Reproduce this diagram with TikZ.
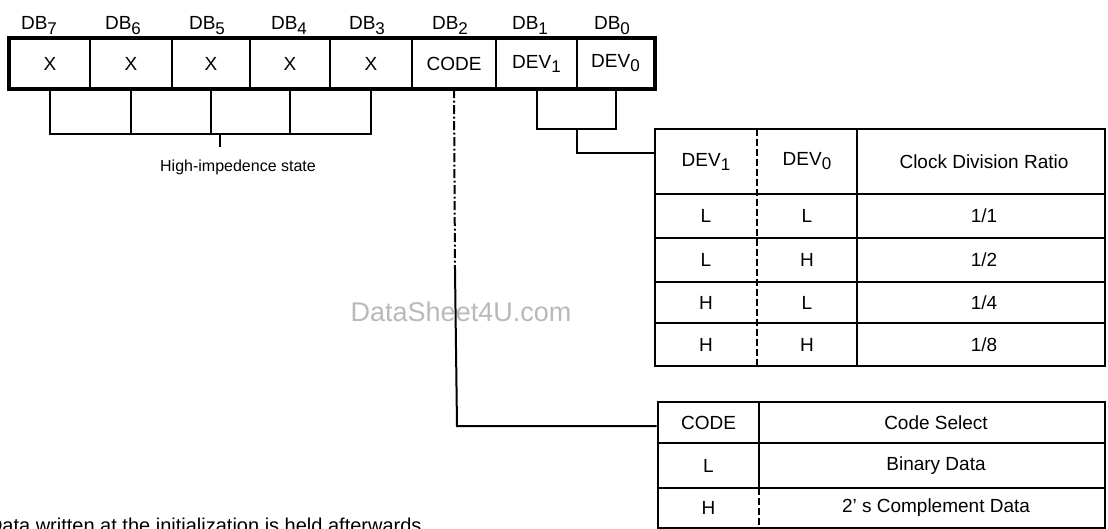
\documentclass[tikz,border=0pt]{standalone}
\usepackage{fontspec}
\setmainfont{Liberation Sans}
\usetikzlibrary{positioning}
\newcommand{\lowidx}[1]{\raisebox{-0.4ex}{\fontsize{17}{17}\selectfont #1}}

\begin{document}
\begin{tikzpicture}[x=1pt, y=-1pt, line width=2pt,
    regcell/.style={draw, line width=2.4pt, minimum height=49pt, inner sep=0pt},
    tabframe/.style={draw, line width=2.8pt, inner sep=0pt},
    txt/.style={inner sep=0pt, font=\fontsize{19}{19}\selectfont},
    thinrule/.style={line width=1.8pt},
    dashsep/.style={line width=1.8pt, dash pattern=on 7pt off 3pt},
    codeline/.style={line width=2pt, dash pattern=on 9pt off 2.5pt on 2pt off 2.5pt}]
    \useasboundingbox (0,0) rectangle (1108,529);
    \clip (0,0) rectangle (1108,529);

    % register DB7 .. DB0
    \foreach \xa/\xb/\lx/\k/\txt in {10/90/39/7/X, 90/172/123/6/X, 172/250/207/5/X, 250/330/289/4/X,
        330/412/367/3/X, 412/496/450/2/CODE, 496/577/530/1/{DEV\lowidx{1}}, 577/654/612/0/{DEV\lowidx{0}}} {
        \node[regcell, txt, minimum width={(\xb-\xa)*1pt}] (b\k) at ({(\xa+\xb)/2}, 63.5) {\txt};
        \node[txt, anchor=base] (l\k) at (\lx, 30) {DB\lowidx{\k}};
    }
    \draw[line width=3pt] (b7.north west) rectangle (b0.south east);

    % high-impedence bracket
    \coordinate (hzbase) at (0,134);
    \draw (b7.south) -- (b7.south |- hzbase) -- (b3.south |- hzbase) -- (b3.south);
    \foreach \k in {6,5,4}
        \draw (b\k.south) -- (b\k.south |- hzbase);
    \coordinate (hzmid) at (220,134);
    \draw (hzmid) -- ++(0,13);
    \node[inner sep=0pt, font=\fontsize{16}{16}\selectfont] (hz) at (238,167) {High-impedence state};

    % clock division table
    \node[tabframe, minimum width=450pt, minimum height=237pt] (tab1) at (880,247.5) {};
    \foreach \y in {194,238,282,323}
        \draw[thinrule] (tab1.west |- 0,\y) -- (tab1.east |- 0,\y);
    \draw[dashsep] (757,129) -- (757,366);
    \draw[thinrule] (857,129) -- (857,366);
    \node[txt] (t1dev1) at (706,161.5) {DEV\lowidx{1}};
    \node[txt] (t1dev0) at (807,161.5) {DEV\lowidx{0}};
    \node[txt] (t1ratio) at (984,161.5) {Clock Division Ratio};
    \foreach \r/\y/\a/\b/\c in {1/216/L/L/{1/1}, 2/260/L/H/{1/2}, 3/302.5/H/L/{1/4}, 4/344.5/H/H/{1/8}} {
        \node[txt] (t1a\r) at (706,\y) {\a};
        \node[txt] (t1b\r) at (807,\y) {\b};
        \node[txt] (t1c\r) at (984,\y) {\c};
    }

    % code select table
    \node[tabframe, minimum width=447pt, minimum height=126pt] (tab2) at (881.5,465) {};
    \foreach \y in {443,488}
        \draw[thinrule] (tab2.west |- 0,\y) -- (tab2.east |- 0,\y);
    \draw[thinrule] (759,402) -- (759,488);
    \draw[dashsep] (759,488) -- (759,528);
    \node[txt] (t2code) at (708.5,422.5) {CODE};
    \node[txt] (t2sel) at (936,422.5) {Code Select};
    \node[txt] (t2l) at (708.5,465.5) {L};
    \node[txt] (t2bin) at (936,465.5) {Binary Data};
    \node[txt] (t2h) at (708.5,508) {H};
    \node[txt] (t2cpl) at (936,508) {2' s Complement Data};

    % connectors
    \coordinate (devbase) at (0,129);
    \draw (b1.south) -- (b1.south |- devbase) -- (b0.south |- devbase) -- (b0.south);
    \coordinate (devmid) at (577,129);
    \coordinate (devtick) at (577,153);
    \draw (devmid) -- (devtick) -- (devtick -| tab1.west);

    \coordinate (codebreak) at (455,270);
    \coordinate (codebend) at (457,426);
    \draw[codeline] (b2.south) -- (codebreak);
    \draw (codebreak) -- (codebend) -- (codebend -| tab2.west);

    \node[text=gray!55, inner sep=0pt, font=\fontsize{27}{27}\selectfont] (wm) at (461,312) {DataSheet4U.com};
    \node[anchor=base west, inner sep=0pt, font=\fontsize{20}{20}\selectfont] (note) at (-13,532)
        {Data written at the initialization is held afterwards};
\end{tikzpicture}
\end{document}
